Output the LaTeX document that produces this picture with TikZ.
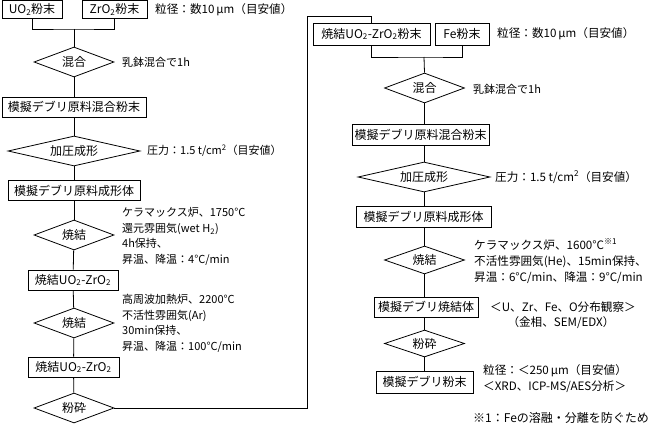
\documentclass[tikz,border=0pt]{standalone}
\usepackage{fontspec}
\setmainfont{Noto Sans CJK JP}
\usetikzlibrary{shapes.geometric}
\begin{document}
\begin{tikzpicture}[x=1pt,y=-1pt,
  box/.style={draw, line width=0.8pt, rectangle, inner sep=0pt, font=\fontsize{12}{14}\selectfont},
  dia/.style={draw, line width=0.8pt, diamond, aspect=4, inner sep=0pt, font=\fontsize{12}{14}\selectfont},
  note/.style={anchor=west, inner sep=0pt, align=left, font=\fontsize{11}{15.7}\selectfont},
  wnote/.style={note, font=\fontsize{11.6}{16}\selectfont},
  link/.style={line width=0.8pt}]
\useasboundingbox (0,0) rectangle (648,428);

% ---- first stage: UO2-ZrO2 sintered body ----
\node[box, minimum width=60, minimum height=18] (uo2) at (32,9.5) {UO\textsubscript{2}粉末};
\node[box, minimum width=65, minimum height=18] (zro2) at (114.5,9.5) {ZrO\textsubscript{2}粉末};
\node[wnote] (ta1) at (155,10) {粒径：数10\,μm（目安値）};
\coordinate (j1) at (74,29);
\node[dia, minimum width=80, minimum height=30] (mixA) at (74,62) {混合};
\node[note] (ta2) at (122,62) {乳鉢混合で1h};
\node[box, minimum width=144, minimum height=20] (powA) at (74,107) {模擬デブリ原料混合粉末};
\node[dia, minimum width=132, minimum height=30] (pressA) at (74,151) {加圧成形};
\node[note] (ta3) at (147,151) {圧力：1.5 t/cm\textsuperscript{2}（目安値）};
\node[box, minimum width=132, minimum height=20] (formA) at (74,190.5) {模擬デブリ原料成形体};
\node[dia, minimum width=80, minimum height=30] (sinA) at (74,235) {焼結};
\node[note] (ta4) at (122,236.5) {ケラマックス炉、1750°C\\還元雰囲気(wet H\textsubscript{2})\\4h保持、\\昇温、降温：4°C/min};
\node[box, minimum width=90, minimum height=20] (bodyA) at (73,280) {焼結UO\textsubscript{2}-ZrO\textsubscript{2}};
\node[dia, minimum width=80, minimum height=30] (sinB) at (74,323) {焼結};
\node[note] (ta5) at (122,323.5) {高周波加熱炉、2200°C\\不活性雰囲気(Ar)\\30min保持、\\昇温、降温：100°C/min};
\node[box, minimum width=91, minimum height=20] (bodyB) at (73.5,367) {焼結UO\textsubscript{2}-ZrO\textsubscript{2}};
\node[dia, minimum width=80, minimum height=30] (crushA) at (74,408) {粉砕};

% ---- second stage: simulated debris ----
\node[box, minimum width=117, minimum height=22] (sp) at (371.5,34) {焼結UO\textsubscript{2}-ZrO\textsubscript{2}粉末};
\node[box, minimum width=54, minimum height=22] (fe) at (462,34) {Fe粉末};
\node[wnote] (tb1) at (497,34) {粒径：数10\,μm（目安値）};
\coordinate (j2) at (424,57);
\node[dia, minimum width=80, minimum height=30] (mixB) at (424.5,88) {混合};
\node[note] (tb2) at (473,89) {乳鉢混合で1h};
\node[box, minimum width=137, minimum height=21] (powB) at (420.5,134.5) {模擬デブリ原料混合粉末};
\node[dia, minimum width=132, minimum height=30] (pressB) at (424,177) {加圧成形};
\node[wnote] (tb3) at (495,177) {圧力：1.5 t/cm\textsuperscript{2}（目安値）};
\node[box, minimum width=135, minimum height=21] (formB) at (423.5,216.5) {模擬デブリ原料成形体};
\node[dia, minimum width=80, minimum height=28] (sinC) at (424.5,260) {焼結};
\node[wnote] (tb4) at (474,261) {ケラマックス炉、1600°C\textsuperscript{※1}\\不活性雰囲気(He)、15min保持、\\昇温：6°C/min、降温：9°C/min};
\node[box, minimum width=104, minimum height=20] (bodyC) at (426,307) {模擬デブリ焼結体};
\node[wnote] (tb5) at (490,307) {＜U、Zr、Fe、O分布観察＞};
\node[anchor=center, inner sep=0pt, font=\fontsize{11.6}{14}\selectfont] (tb6) at (561,323) {（金相、SEM/EDX）};
\node[dia, minimum width=80, minimum height=27] (crushB) at (424.5,343.5) {粉砕};
\node[box, minimum width=97, minimum height=22] (fine) at (424.5,382) {模擬デブリ粉末};
\node[wnote] (tb7) at (483,379) {粒径：＜250\,μm（目安値）\\＜XRD、ICP-MS/AES分析＞};
\node[note, font=\fontsize{12}{14}\selectfont] (fn) at (473,418) {※1：Feの溶融・分離を防ぐため};

% ---- connectors ----
\draw[link] (uo2.south) |- (j1) -| (zro2.south);
\draw[link] (j1) -- (mixA.north);
\draw[link] (mixA) -- (powA);
\draw[link] (powA) -- (pressA);
\draw[link] (pressA) -- (formA);
\draw[link] (formA) -- (sinA);
\draw[link] (sinA) -- (bodyA);
\draw[link] (bodyA) -- (sinB);
\draw[link] (sinB) -- (bodyB);
\draw[link] (bodyB) -- (crushA);
\coordinate (r1) at (307,16);
\draw[link] (crushA.east) -| (r1) -| (sp.north);

\draw[link] (sp.south) |- (j2) -| (fe.south);
\draw[link] (j2) -- (mixB.north);
\draw[link] (mixB.south) -- (mixB.south |- powB.north);
\draw[link] (pressB.north |- powB.south) -- (pressB.north);
\draw[link] (pressB.south) -- (pressB.south |- formB.north);
\draw[link] (sinC.north |- formB.south) -- (sinC.north);
\draw[link] (sinC.south) -- (sinC.south |- bodyC.north);
\draw[link] (crushB.north |- bodyC.south) -- (crushB.north);
\draw[link] (crushB.south) -- (crushB.south |- fine.north);
\end{tikzpicture}
\end{document}
